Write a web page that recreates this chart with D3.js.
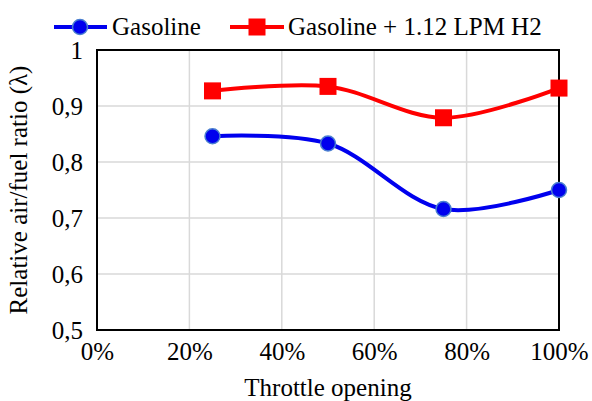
<!DOCTYPE html>
<html><head><meta charset="utf-8">
<script src="https://cdn.jsdelivr.net/npm/d3@7"></script>
<style>body{margin:0;background:#fff}svg{display:block}</style>
</head><body>
<script>
const throttle = [0.25, 0.50, 0.75, 1.00];
const gasoline = [0.846, 0.833, 0.716, 0.750];
const gasolineH2 = [0.927, 0.935, 0.879, 0.932];
const xTicks = [0, 0.2, 0.4, 0.6, 0.8, 1.0];
const yTicks = [0.5, 0.6, 0.7, 0.8, 0.9, 1.0];
const seriesNames = ["Gasoline", "Gasoline + 1.12 LPM H2"];

const W = 592, H = 401;
const FONT = "Tinos, 'Liberation Serif', 'DejaVu Serif', serif";
const svg = d3.select("body").append("svg").attr("width", W).attr("height", H);
const x = d3.scaleLinear().domain([0, 1]).range([97, 559]);
const y = d3.scaleLinear().domain([0.5, 1]).range([330, 50]);
const fs = 25;

// gridlines
svg.append("g").selectAll("line.h").data(yTicks.slice(1, -1)).join("line")
  .attr("x1", x(0)).attr("x2", x(1)).attr("y1", d => y(d)).attr("y2", d => y(d))
  .attr("stroke", "#d9d9d9").attr("stroke-width", 1.5);
svg.append("g").selectAll("line.v").data(xTicks.slice(1, -1)).join("line")
  .attr("y1", y(0.5)).attr("y2", y(1)).attr("x1", d => x(d)).attr("x2", d => x(d))
  .attr("stroke", "#d9d9d9").attr("stroke-width", 1.5);

// frame
svg.append("rect").attr("x", x(0)).attr("y", y(1)).attr("width", x(1) - x(0)).attr("height", y(0.5) - y(1))
  .attr("fill", "none").attr("stroke", "#000").attr("stroke-width", 2);

// axes labels
const yAxis = d3.axisLeft(y).tickValues(yTicks).tickSize(0).tickPadding(14)
  .tickFormat(d => d === 1 ? "1" : d3.format(".1f")(d).replace(".", ","));
const gy = svg.append("g").attr("transform", `translate(${x(0)},0)`).call(yAxis)
  .attr("font-family", FONT).attr("font-size", fs);
gy.select(".domain").remove();
gy.selectAll("text").style("font-family", FONT).style("fill", "#000");

const xAxis = d3.axisBottom(x).tickValues(xTicks).tickSize(0).tickPadding(12)
  .tickFormat(d3.format(".0%"));
const gx = svg.append("g").attr("transform", `translate(0,${y(0.5)})`).call(xAxis)
  .attr("font-family", FONT).attr("font-size", fs);
gx.select(".domain").remove();
gx.selectAll("text").style("font-family", FONT).style("fill", "#000");

svg.append("text").attr("x", (x(0) + x(1)) / 2).attr("y", 396).attr("text-anchor", "middle")
  .attr("font-size", fs).attr("font-family", FONT).text("Throttle opening");
svg.append("text").attr("transform", `translate(27,${(y(0.5) + y(1)) / 2}) rotate(-90)`)
  .attr("text-anchor", "middle").attr("font-size", fs).attr("font-family", FONT).text("Relative air/fuel ratio (λ)");

// lines
const line = d3.line().x(d => x(d[0])).y(d => y(d[1])).curve(d3.curveCatmullRom.alpha(0.5));
const dG = throttle.map((t, i) => [t, gasoline[i]]);
const dH = throttle.map((t, i) => [t, gasolineH2[i]]);
svg.append("path").attr("d", line(dH)).attr("fill", "none").attr("stroke", "#ff0000").attr("stroke-width", 4);
svg.append("path").attr("d", line(dG)).attr("fill", "none").attr("stroke", "#0000ee").attr("stroke-width", 4);

svg.append("g").selectAll("rect").data(dH).join("rect")
  .attr("x", d => x(d[0]) - 8.5).attr("y", d => y(d[1]) - 8.5).attr("width", 17).attr("height", 17)
  .attr("fill", "#ff0000");
svg.append("g").selectAll("circle").data(dG).join("circle")
  .attr("cx", d => x(d[0])).attr("cy", d => y(d[1])).attr("r", 7.5)
  .attr("fill", "#0000ee").attr("stroke", "#4a7fd0").attr("stroke-width", 1.5);

// legend
const lg = svg.append("g").attr("font-family", FONT).attr("font-size", fs);
lg.append("line").attr("x1", 54).attr("x2", 107).attr("y1", 27).attr("y2", 27).attr("stroke", "#0000ee").attr("stroke-width", 4);
lg.append("circle").attr("cx", 80).attr("cy", 27).attr("r", 7.5).attr("fill", "#0000ee").attr("stroke", "#4a7fd0").attr("stroke-width", 1.5);
lg.append("text").attr("x", 112).attr("y", 35).text(seriesNames[0]);
lg.append("line").attr("x1", 230).attr("x2", 284).attr("y1", 27).attr("y2", 27).attr("stroke", "#ff0000").attr("stroke-width", 4);
lg.append("rect").attr("x", 257 - 8.5).attr("y", 27 - 8.5).attr("width", 17).attr("height", 17).attr("fill", "#ff0000");
lg.append("text").attr("x", 288).attr("y", 35).text(seriesNames[1]);
</script>
</body></html>
